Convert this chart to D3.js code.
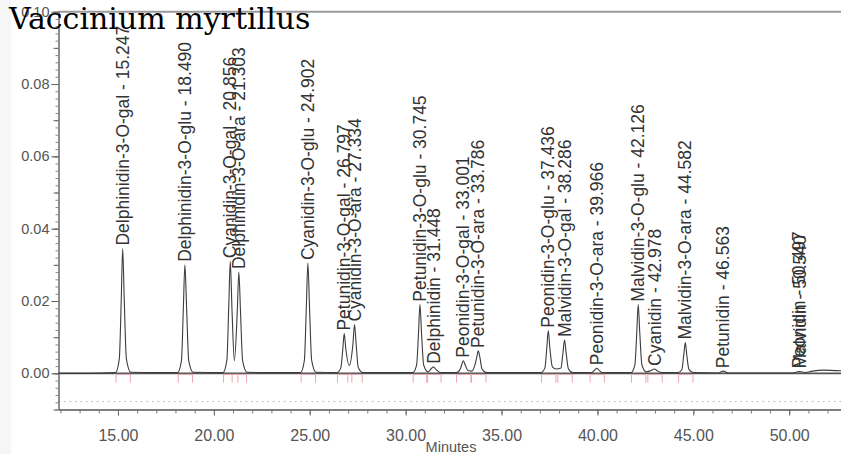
<!DOCTYPE html>
<html>
<head>
<meta charset="utf-8">
<script src="https://cdn.jsdelivr.net/npm/d3@7/dist/d3.min.js"></script>
<style>
  html, body { margin: 0; padding: 0; background: #fff; }
  svg { display: block; }
</style>
</head>
<body>
<svg id="chart" width="841" height="454"></svg>
<script>
// Anthocyanin chromatogram, Vaccinium myrtillus (absorbance vs. retention time)

const titleText = "Vaccinium myrtillus";
const xAxisTitle = "Minutes";

// Identified peaks: name, retention time (min), apex absorbance (AU)
const peakNames = [
  "Delphinidin-3-O-gal", "Delphinidin-3-O-glu", "Cyanidin-3-O-gal", "Delphinidin-3-O-ara",
  "Cyanidin-3-O-glu", "Petunidin-3-O-gal", "Cyanidin-3-O-ara", "Petunidin-3-O-glu",
  "Delphinidin", "Peonidin-3-O-gal", "Petunidin-3-O-ara", "Peonidin-3-O-glu",
  "Malvidin-3-O-gal", "Peonidin-3-O-ara", "Malvidin-3-O-glu", "Cyanidin",
  "Malvidin-3-O-ara", "Petunidin", "Peonidin", "Malvidin"
];
const peakTimes = [
  15.247, 18.490, 20.856, 21.303, 24.902, 26.797, 27.334, 30.745, 31.448, 33.001,
  33.786, 37.436, 38.286, 39.966, 42.126, 42.978, 44.582, 46.563, 50.497, 50.540
];
const peakHeights = [
  0.0345, 0.0300, 0.0310, 0.0280, 0.0305, 0.0110, 0.0135, 0.0190, 0.0018, 0.0035,
  0.0062, 0.0118, 0.0092, 0.0014, 0.0190, 0.0012, 0.0085, 0.0006, 0.0005, 0.0005
];

// Detector trace: [time (min), absorbance (AU)]
const trace = [
  [11.90, 0.0000], [13.50, 0.0000], [14.87, 0.0002],
  [15.07, 0.0040], [15.17, 0.0200], [15.247, 0.0345], [15.33, 0.0200], [15.44, 0.0040], [15.67, 0.0003],
  [17.00, 0.0002], [18.11, 0.0002],
  [18.31, 0.0035], [18.41, 0.0180], [18.490, 0.0300], [18.58, 0.0180], [18.69, 0.0035], [18.92, 0.0003],
  [20.48, 0.0002],
  [20.68, 0.0037], [20.78, 0.0190], [20.856, 0.0310], [20.95, 0.0170], [21.07, 0.0035],
  [21.22, 0.0170], [21.303, 0.0280], [21.39, 0.0170], [21.50, 0.0035], [21.73, 0.0003],
  [23.00, 0.0002], [24.52, 0.0002],
  [24.72, 0.0036], [24.82, 0.0180], [24.902, 0.0305], [24.99, 0.0180], [25.10, 0.0036], [25.33, 0.0003],
  [26.42, 0.0002],
  [26.62, 0.0015], [26.72, 0.0065], [26.797, 0.0110], [26.88, 0.0068], [27.06, 0.0022],
  [27.25, 0.0080], [27.334, 0.0135], [27.42, 0.0080], [27.53, 0.0016], [27.77, 0.0002],
  [29.00, 0.0002], [30.37, 0.0002],
  [30.57, 0.0023], [30.67, 0.0110], [30.745, 0.0190], [30.83, 0.0110], [30.94, 0.0023], [31.17, 0.0004],
  [31.32, 0.0012], [31.448, 0.0018], [31.58, 0.0011], [31.80, 0.0002],
  [32.65, 0.0002],
  [32.85, 0.0012], [32.93, 0.0025], [33.001, 0.0035], [33.09, 0.0025], [33.25, 0.0008], [33.45, 0.0006],
  [33.62, 0.0025], [33.71, 0.0045], [33.786, 0.0062], [33.87, 0.0045], [33.98, 0.0012], [34.22, 0.0002],
  [35.60, 0.0002], [37.06, 0.0002],
  [37.26, 0.0015], [37.36, 0.0070], [37.436, 0.0118], [37.52, 0.0070], [37.65, 0.0018], [37.85, 0.0012],
  [38.10, 0.0015], [38.20, 0.0055], [38.286, 0.0092], [38.37, 0.0055], [38.49, 0.0012], [38.72, 0.0002],
  [39.70, 0.0002], [39.85, 0.0009], [39.966, 0.0014], [40.08, 0.0009], [40.25, 0.0002],
  [41.00, 0.0002], [41.75, 0.0002],
  [41.95, 0.0023], [42.05, 0.0110], [42.126, 0.0190], [42.21, 0.0110], [42.32, 0.0023], [42.55, 0.0004],
  [42.80, 0.0008], [42.978, 0.0012], [43.12, 0.0007], [43.35, 0.0002],
  [44.20, 0.0002],
  [44.40, 0.0010], [44.50, 0.0050], [44.582, 0.0085], [44.66, 0.0050], [44.77, 0.0011], [45.00, 0.0002],
  [46.30, 0.0001], [46.563, 0.0006], [46.80, 0.0001],
  [48.50, 0.0001], [50.20, 0.0001], [50.497, 0.0005], [50.52, 0.0004], [50.540, 0.0005], [50.85, 0.0002],
  [51.20, 0.0006], [51.80, 0.0009], [52.70, 0.0007]
];

// Axis ticks
const xTickValues = [15, 20, 25, 30, 35, 40, 45, 50];
const xTickLabels = ["15.00", "20.00", "25.00", "30.00", "35.00", "40.00", "45.00", "50.00"];
const yTickValues = [0.00, 0.02, 0.04, 0.06, 0.08, 0.10];
const yTickLabels = ["0.00", "0.02", "0.04", "0.06", "0.08", "0.10"];

const svg = d3.select("#chart");
const W = 841, H = 454;
const plot = { left: 58.5, right: 841, top: 11.7, bottom: 409.5 };
const sans = "'Liberation Sans', Arial, sans-serif";

const x = d3.scaleLinear().domain([11.9, 52.7]).range([plot.left, plot.right]);
const y = d3.scaleLinear().domain([-0.01, 0.10]).range([plot.bottom, plot.top]);

// faint stripe on the left margin
svg.append("rect")
  .attr("x", 0).attr("y", 0).attr("width", 11).attr("height", H)
  .attr("fill", "#f6f6f6");

// top frame line
svg.append("line")
  .attr("x1", plot.left).attr("x2", W)
  .attr("y1", y(0.10)).attr("y2", y(0.10))
  .attr("stroke", "#9a9a9a").attr("stroke-width", 2);

// faint dotted guide just above the time axis
svg.append("line")
  .attr("x1", plot.left).attr("x2", W)
  .attr("y1", y(-0.0078)).attr("y2", y(-0.0078))
  .attr("stroke", "#b5b5b5").attr("stroke-width", 1)
  .attr("stroke-dasharray", "1.5,4");

// zero baseline
svg.append("line")
  .attr("x1", plot.left).attr("x2", W)
  .attr("y1", y(0)).attr("y2", y(0))
  .attr("stroke", "#555").attr("stroke-width", 1.6);

// integration baselines (pink) under each peak
const integ = svg.append("g").attr("stroke", "#efa7b1").attr("stroke-width", 1).attr("fill", "none");
peakTimes.forEach((t, i) => {
  if (peakHeights[i] < 0.001) return;
  integ.append("line")
    .attr("x1", x(t - 0.35)).attr("x2", x(t + 0.4))
    .attr("y1", y(-0.0003)).attr("y2", y(-0.0003));
  integ.append("line")
    .attr("x1", x(t - 0.35)).attr("x2", x(t - 0.35))
    .attr("y1", y(-0.0003)).attr("y2", y(-0.0026));
  integ.append("line")
    .attr("x1", x(t + 0.4)).attr("x2", x(t + 0.4))
    .attr("y1", y(-0.0003)).attr("y2", y(-0.0026));
});

// chromatogram trace
const line = d3.line()
  .x(d => x(d[0]))
  .y(d => y(d[1]))
  .curve(d3.curveMonotoneX);

svg.append("path")
  .datum(trace)
  .attr("d", line)
  .attr("fill", "none")
  .attr("stroke", "#3c3c3c")
  .attr("stroke-width", 1.1);

// Y axis
const yAxis = svg.append("g")
  .attr("transform", `translate(${plot.left},0)`)
  .call(d3.axisLeft(y).tickValues(yTickValues)
    .tickFormat((d, i) => yTickLabels[i]).tickSize(7).tickSizeOuter(0).tickPadding(2));
yAxis.selectAll("text")
  .attr("font-family", sans)
  .attr("font-size", 14.5).attr("fill", "#555");
yAxis.select(".domain").attr("stroke", "#444").attr("stroke-width", 1.2);
yAxis.selectAll(".tick line").attr("stroke", "#555");

const yMinor = d3.range(-0.01, 0.1001, 0.002);
const yMid = d3.range(-0.01, 0.1001, 0.01);
svg.append("g")
  .attr("transform", `translate(${plot.left},0)`)
  .call(d3.axisLeft(y).tickValues(yMinor).tickFormat("").tickSize(3).tickSizeOuter(0))
  .call(g => g.select(".domain").remove())
  .selectAll("line").attr("stroke", "#888");
svg.append("g")
  .attr("transform", `translate(${plot.left},0)`)
  .call(d3.axisLeft(y).tickValues(yMid).tickFormat("").tickSize(5).tickSizeOuter(0))
  .call(g => g.select(".domain").remove())
  .selectAll("line").attr("stroke", "#666");

// X axis
const xAxis = svg.append("g")
  .attr("transform", `translate(0,${plot.bottom})`)
  .call(d3.axisBottom(x).tickValues(xTickValues)
    .tickFormat((d, i) => xTickLabels[i]).tickSize(6).tickSizeOuter(0).tickPadding(14));
xAxis.selectAll("text")
  .attr("font-family", sans)
  .attr("font-size", 16).attr("fill", "#555");
xAxis.select(".domain").attr("stroke", "#555").attr("stroke-width", 1.6);
xAxis.selectAll(".tick line").attr("stroke", "#555");

svg.append("g")
  .attr("transform", `translate(0,${plot.bottom})`)
  .call(d3.axisBottom(x).tickValues(d3.range(12, 53, 1)).tickFormat("").tickSize(4).tickSizeOuter(0))
  .call(g => g.select(".domain").remove())
  .selectAll("line").attr("stroke", "#777");

svg.append("text")
  .attr("x", 451).attr("y", 452)
  .attr("text-anchor", "middle")
  .attr("font-family", sans)
  .attr("font-size", 14.5).attr("fill", "#555")
  .text(xAxisTitle);

// Peak annotations, rotated and placed just above each apex
const labels = svg.append("g")
  .attr("font-family", sans)
  .attr("font-size", 17.5)
  .attr("fill", "#333");
peakTimes.forEach((t, i) => {
  const px = x(t), py = y(peakHeights[i]) - 3;
  labels.append("text")
    .attr("transform", `translate(${px},${py}) rotate(-90)`)
    .attr("dy", "0.35em")
    .attr("text-anchor", "start")
    .text(`${peakNames[i]} - ${t.toFixed(3)}`);
});

// Title
svg.append("text")
  .attr("x", 9).attr("y", 29)
  .attr("font-family", "'DejaVu Serif', serif")
  .attr("font-size", 30)
  .attr("fill", "#000")
  .text(titleText);
</script>
</body>
</html>
